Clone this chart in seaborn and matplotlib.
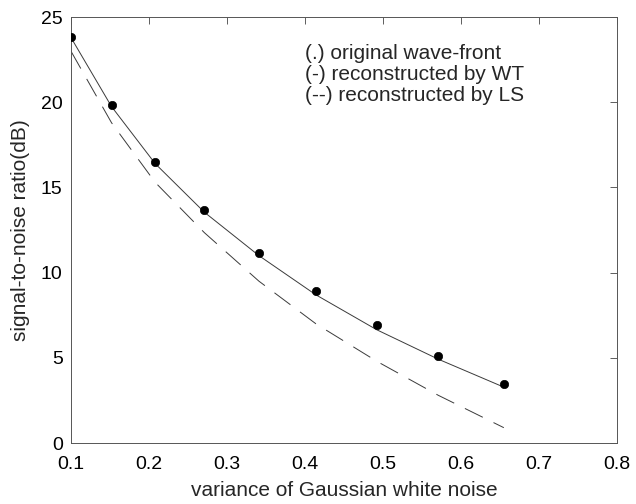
import matplotlib
matplotlib.use("Agg")
import matplotlib.pyplot as plt
import seaborn as sns
import pandas as pd

# data
variance = [0.1, 0.152, 0.208, 0.271, 0.341, 0.414, 0.492, 0.571, 0.655]
snr_original = [23.84, 19.84, 16.51, 13.65, 11.16, 8.92, 6.9, 5.1, 3.47]
snr_wt = [23.8, 19.75, 16.4, 13.55, 11.0, 8.7, 6.65, 4.92, 3.28]
snr_ls = [23.0, 18.8, 15.3, 12.35, 9.5, 7.0, 4.8, 2.8, 0.9]

x_ticks = [0.1, 0.2, 0.3, 0.4, 0.5, 0.6, 0.7, 0.8]
y_ticks = [0, 5, 10, 15, 20, 25]
legend_lines = ["(.) original wave-front", "(-) reconstructed by WT", "(--) reconstructed by LS"]

df = pd.DataFrame({"x": variance, "orig": snr_original, "wt": snr_wt, "ls": snr_ls})

sns.set_style("white")
plt.rcParams["font.family"] = ["Liberation Sans", "DejaVu Sans"]

fig = plt.figure(figsize=(6.36, 5.04), dpi=100)
ax = fig.add_axes([0.1116, 0.121, 0.8584, 0.845])

sns.lineplot(data=df, x="x", y="wt", ax=ax, color="#3a3a3a", linewidth=0.7)
sns.lineplot(data=df, x="x", y="ls", ax=ax, color="#3a3a3a", linewidth=0.7,
             linestyle=(0, (20.5, 12.3)))
sns.scatterplot(data=df, x="x", y="orig", ax=ax, color="black", s=36,
                edgecolor="black", linewidth=0.5, zorder=5)

ax.set_xlim(0.1, 0.8)
ax.set_ylim(0, 25)
ax.set_xticks(x_ticks)
ax.set_xticklabels([f"{t:.1f}" for t in x_ticks])
ax.set_yticks(y_ticks)
ax.set_yticklabels([str(t) for t in y_ticks])
ax.tick_params(direction="in", length=5, width=0.6, labelsize=14,
               top=True, right=True, colors="#444444", labelcolor="black", pad=4)
ax.tick_params(axis="x", pad=9)
ax.tick_params(axis="y", pad=6)
for sp in ax.spines.values():
    sp.set_visible(True)
    sp.set_color("#555555")
    sp.set_linewidth(0.7)

ax.set_xlabel("variance of Gaussian white noise", fontsize=15, labelpad=6)
ax.set_ylabel("signal-to-noise ratio(dB)", fontsize=15, labelpad=8)

ys = [0.915, 0.866, 0.817]
for txt, yy in zip(legend_lines, ys):
    ax.text(0.4286, yy, txt, transform=ax.transAxes, fontsize=15, va="center", ha="left")

fig.savefig("out.png", dpi=100)
